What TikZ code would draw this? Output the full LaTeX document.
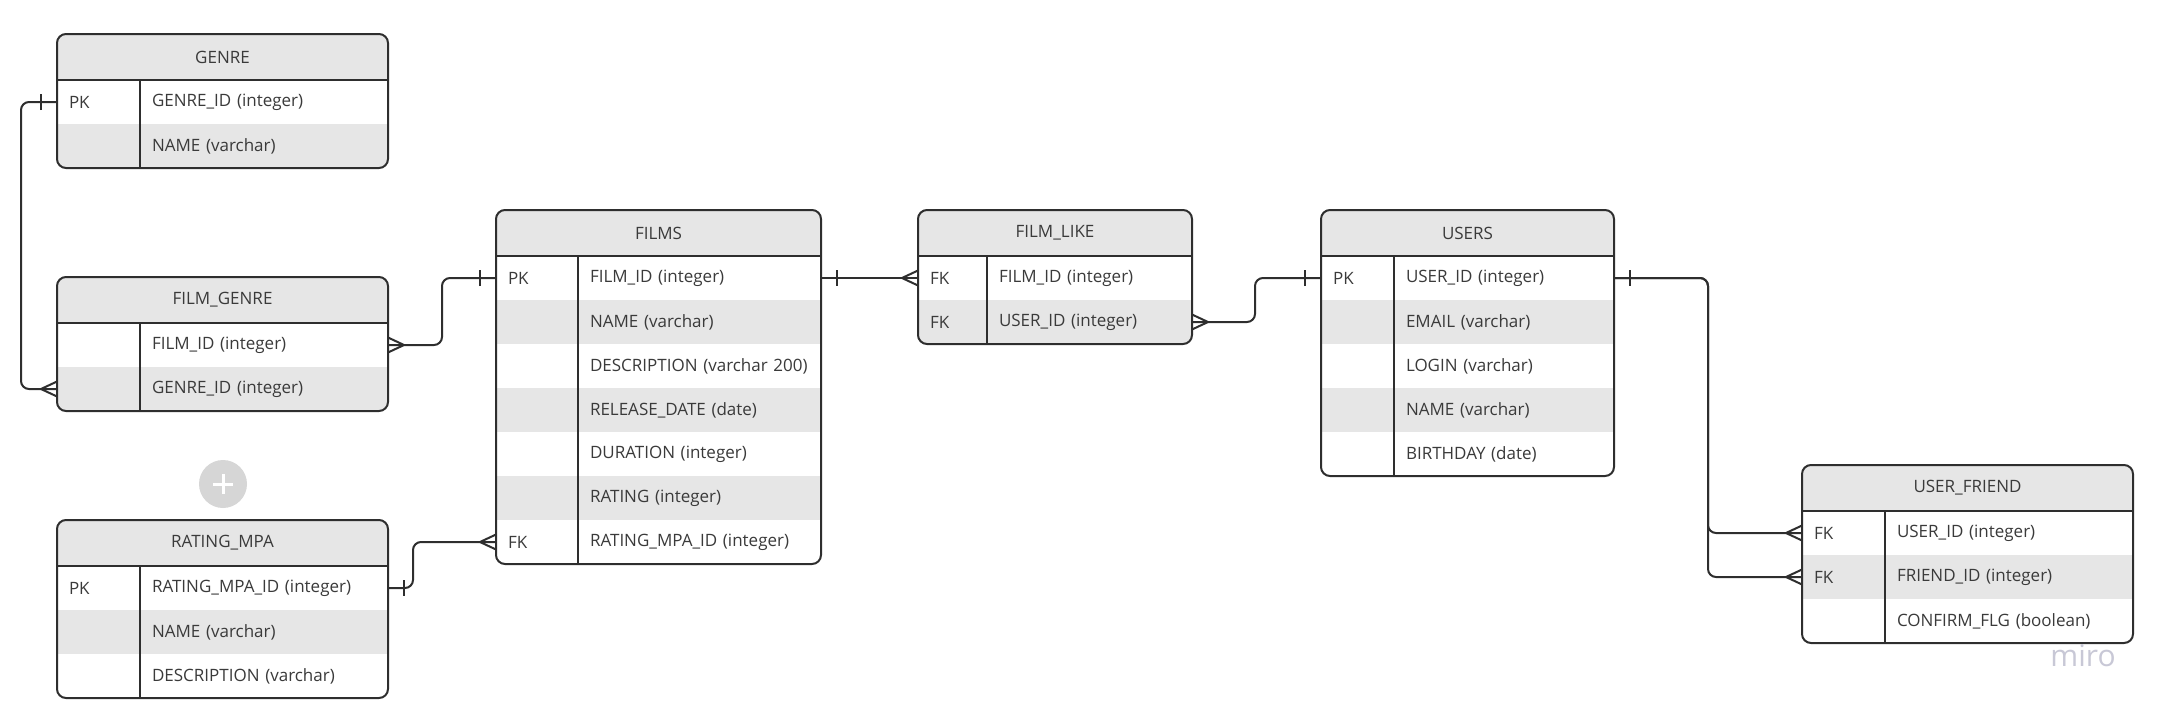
\documentclass[tikz,border=0pt]{standalone}
\usepackage{fontspec}
\setmainfont{Open Sans}

\definecolor{cinza}{HTML}{E6E6E6}
\definecolor{borda}{HTML}{2E2E2E}
\definecolor{texto}{HTML}{3A3A3A}
\definecolor{botao}{HTML}{D6D6D6}
\definecolor{marca}{HTML}{C8C8D6}

\begin{document}
\begin{tikzpicture}[
        x=1pt, y=-1pt,
        every node/.style={font=\fontsize{17}{20}\selectfont, text=texto, inner sep=0pt, outer sep=0pt},
        cab/.style={fill=cinza, minimum height=46pt, anchor=north west},
        cel/.style={minimum height=44pt, inner xsep=12pt, align=left, anchor=north west},
        contorno/.style={draw=borda, line width=2pt, rounded corners=9pt},
        grade/.style={draw=borda, line width=2pt},
        lig/.style={draw=borda, line width=2pt, rounded corners=8pt},
        um/.pic={\draw[grade] (16,-8) -- (16,8);},
        muitos/.pic={\draw[grade] (0,-7.5) -- (16,0) -- (0,7.5);}
    ]
        \useasboundingbox (0,0) rectangle (2168,720);

        % GENRE
        \begin{scope}
            \clip[rounded corners=9pt] (57,34) rectangle (388,168);
            \node[cab, minimum width=331pt] (genre) at (57,34) {GENRE};
            \foreach \ch/\cp [count=\i] in {PK/GENRE\_ID (integer), /NAME (varchar)} {
                \ifodd\i\relax\def\fundo{white}\else\def\fundo{cinza}\fi
                \node[cel, fill=\fundo, text width=59pt] (genre-k\i) at (57,{80+44*(\i-1)}) {\ch};
                \node[cel, fill=\fundo, text width=224pt] (genre-\i) at (140,{80+44*(\i-1)}) {\cp};
            }
        \end{scope}
        \draw[contorno] (57,34) rectangle (388,168);
        \draw[grade] (genre.south west) -- (genre.south east) (genre-k1.north east) -- (genre-k2.south east);

        % FILM_GENRE
        \begin{scope}
            \clip[rounded corners=9pt] (57,277) rectangle (388,411);
            \node[cab, minimum width=331pt] (fgenre) at (57,277) {FILM\_GENRE};
            \foreach \ch/\cp [count=\i] in {/FILM\_ID (integer), /GENRE\_ID (integer)} {
                \ifodd\i\relax\def\fundo{white}\else\def\fundo{cinza}\fi
                \node[cel, fill=\fundo, text width=59pt] (fgenre-k\i) at (57,{323+44*(\i-1)}) {\ch};
                \node[cel, fill=\fundo, text width=224pt] (fgenre-\i) at (140,{323+44*(\i-1)}) {\cp};
            }
        \end{scope}
        \draw[contorno] (57,277) rectangle (388,411);
        \draw[grade] (fgenre.south west) -- (fgenre.south east) (fgenre-k1.north east) -- (fgenre-k2.south east);

        % RATING_MPA
        \begin{scope}
            \clip[rounded corners=9pt] (57,520) rectangle (388,698);
            \node[cab, minimum width=331pt] (rmpa) at (57,520) {RATING\_MPA};
            \foreach \ch/\cp [count=\i] in {PK/RATING\_MPA\_ID (integer), /NAME (varchar), /DESCRIPTION (varchar)} {
                \ifodd\i\relax\def\fundo{white}\else\def\fundo{cinza}\fi
                \node[cel, fill=\fundo, text width=59pt] (rmpa-k\i) at (57,{566+44*(\i-1)}) {\ch};
                \node[cel, fill=\fundo, text width=224pt] (rmpa-\i) at (140,{566+44*(\i-1)}) {\cp};
            }
        \end{scope}
        \draw[contorno] (57,520) rectangle (388,698);
        \draw[grade] (rmpa.south west) -- (rmpa.south east) (rmpa-k1.north east) -- (rmpa-k3.south east);

        % FILMS
        \begin{scope}
            \clip[rounded corners=9pt] (496,210) rectangle (821,564);
            \node[cab, minimum width=325pt] (films) at (496,210) {FILMS};
            \foreach \ch/\cp [count=\i] in {PK/FILM\_ID (integer), /NAME (varchar), /DESCRIPTION (varchar 200),
                /RELEASE\_DATE (date), /DURATION (integer), /RATING (integer), FK/RATING\_MPA\_ID (integer)} {
                \ifodd\i\relax\def\fundo{white}\else\def\fundo{cinza}\fi
                \node[cel, fill=\fundo, text width=58pt] (films-k\i) at (496,{256+44*(\i-1)}) {\ch};
                \node[cel, fill=\fundo, text width=219pt] (films-\i) at (578,{256+44*(\i-1)}) {\cp};
            }
        \end{scope}
        \draw[contorno] (496,210) rectangle (821,564);
        \draw[grade] (films.south west) -- (films.south east) (films-k1.north east) -- (films-k7.south east);

        % FILM_LIKE
        \begin{scope}
            \clip[rounded corners=9pt] (918,210) rectangle (1192,344);
            \node[cab, minimum width=274pt] (flike) at (918,210) {FILM\_LIKE};
            \foreach \ch/\cp [count=\i] in {FK/FILM\_ID (integer), FK/USER\_ID (integer)} {
                \ifodd\i\relax\def\fundo{white}\else\def\fundo{cinza}\fi
                \node[cel, fill=\fundo, text width=45pt] (flike-k\i) at (918,{256+44*(\i-1)}) {\ch};
                \node[cel, fill=\fundo, text width=181pt] (flike-\i) at (987,{256+44*(\i-1)}) {\cp};
            }
        \end{scope}
        \draw[contorno] (918,210) rectangle (1192,344);
        \draw[grade] (flike.south west) -- (flike.south east) (flike-k1.north east) -- (flike-k2.south east);

        % USERS
        \begin{scope}
            \clip[rounded corners=9pt] (1321,210) rectangle (1614,476);
            \node[cab, minimum width=293pt] (users) at (1321,210) {USERS};
            \foreach \ch/\cp [count=\i] in {PK/USER\_ID (integer), /EMAIL (varchar), /LOGIN (varchar),
                /NAME (varchar), /BIRTHDAY (date)} {
                \ifodd\i\relax\def\fundo{white}\else\def\fundo{cinza}\fi
                \node[cel, fill=\fundo, text width=49pt] (users-k\i) at (1321,{256+44*(\i-1)}) {\ch};
                \node[cel, fill=\fundo, text width=196pt] (users-\i) at (1394,{256+44*(\i-1)}) {\cp};
            }
        \end{scope}
        \draw[contorno] (1321,210) rectangle (1614,476);
        \draw[grade] (users.south west) -- (users.south east) (users-k1.north east) -- (users-k5.south east);

        % USER_FRIEND
        \begin{scope}
            \clip[rounded corners=9pt] (1802,465) rectangle (2133,643);
            \node[cab, minimum width=331pt] (ufriend) at (1802,465) {USER\_FRIEND};
            \foreach \ch/\cp [count=\i] in {FK/USER\_ID (integer), FK/FRIEND\_ID (integer), /CONFIRM\_FLG (boolean)} {
                \ifodd\i\relax\def\fundo{white}\else\def\fundo{cinza}\fi
                \node[cel, fill=\fundo, text width=59pt] (ufriend-k\i) at (1802,{511+44*(\i-1)}) {\ch};
                \node[cel, fill=\fundo, text width=224pt] (ufriend-\i) at (1885,{511+44*(\i-1)}) {\cp};
            }
        \end{scope}
        \draw[contorno] (1802,465) rectangle (2133,643);
        \draw[grade] (ufriend.south west) -- (ufriend.south east) (ufriend-k1.north east) -- (ufriend-k3.south east);

        % ligações
        \draw[lig] (genre-k1.west) -- ++(-36,0) |- (fgenre-k2.west);
        \draw[lig] (fgenre-1.east) -- ++(54,0) |- (films-k1.west);
        \draw[lig] (rmpa-1.east) -- ++(25,0) |- (films-k7.west);
        \draw[lig] (films-1.east) -- (flike-k1.west);
        \draw[lig] (flike-2.east) -- ++(63,0) |- (users-k1.west);
        \draw[lig] (users-1.east) -- ++(94,0) |- (ufriend-k1.west);
        \draw[lig] (users-1.east) -- ++(94,0) |- (ufriend-k2.west);

        % cardinalidades
        \pic[rotate=180] at (genre-k1.west) {um};
        \pic[rotate=180] at (fgenre-k2.west) {muitos};
        \pic at (fgenre-1.east) {muitos};
        \pic[rotate=180] at (films-k1.west) {um};
        \pic at (rmpa-1.east) {um};
        \pic[rotate=180] at (films-k7.west) {muitos};
        \pic at (films-1.east) {um};
        \pic[rotate=180] at (flike-k1.west) {muitos};
        \pic at (flike-2.east) {muitos};
        \pic[rotate=180] at (users-k1.west) {um};
        \pic at (users-1.east) {um};
        \pic[rotate=180] at (ufriend-k1.west) {muitos};
        \pic[rotate=180] at (ufriend-k2.west) {muitos};

        % botão e marca
        \node[circle, fill=botao, minimum size=48pt] (mais) at (223,484) {};
        \draw[white, line width=3pt] (mais.center) ++(-10,0) -- ++(20,0) (mais.center) ++(0,-10) -- ++(0,20);
        \node[font=\fontsize{30}{30}\selectfont, text=marca] (miro) at (2083,656) {miro};
    \end{tikzpicture}
\end{document}
